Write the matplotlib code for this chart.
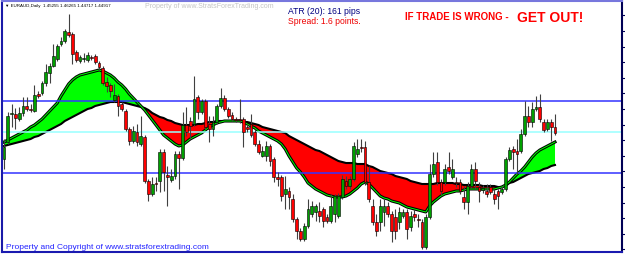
import numpy as np
import matplotlib
matplotlib.use("Agg")
import matplotlib.pyplot as plt
import matplotlib.patheffects as pe

# EURAUD daily candles, prices in pips (x 1e-4)
OPEN = [14340, 14442, 14610, 14610, 14580, 14616, 14658, 14640, 14628, 14730,
        14736, 14796, 14856, 14898, 14940, 15030, 15048, 15102, 15090, 14982,
        14928, 14940, 14934, 14952, 14958, 14916, 14886, 14802, 14784, 14694,
        14718, 14670, 14628, 14520, 14448, 14502, 14430, 14472, 14208, 14130,
        14196, 14208, 14382, 14244, 14214, 14238, 14370, 14346, 14544, 14568,
        14550, 14712, 14622, 14688, 14550, 14520, 14562, 14658, 14706, 14640,
        14604, 14580, 14580, 14580, 14532, 14550, 14502, 14430, 14358, 14358,
        14418, 14340, 14232, 14232, 14130, 14148, 14100, 13980, 13908, 13860,
        13938, 14010, 14022, 14028, 14040, 13992, 13968, 14010, 13998, 14112,
        14208, 14178, 14220, 14370, 14412, 14412, 14202, 14058, 13962, 13962,
        14022, 14058, 14010, 13992, 13962, 13998, 14022, 13932, 14010, 13980,
        13962, 13812, 13992, 14250, 14322, 14202, 14202, 14292, 14232, 14202,
        14202, 14112, 14082, 14178, 14280, 14172, 14154, 14148, 14172, 14130,
        14148, 14142, 14160, 14340, 14400, 14388, 14388, 14490, 14598, 14562,
        14640, 14652, 14562, 14520, 14562, 14532]
HIGH = [14460, 14622, 14670, 14646, 14652, 14712, 14712, 14670, 14784, 14748,
        14808, 14910, 14916, 15030, 15030, 15072, 15120, 15210, 15102, 14994,
        14964, 14976, 14982, 14964, 14970, 14928, 14898, 14832, 14796, 14790,
        14730, 14682, 14640, 14532, 14538, 14550, 14598, 14484, 14220, 14232,
        14232, 14400, 14400, 14298, 14280, 14388, 14388, 14622, 14652, 14592,
        14838, 14724, 14700, 14700, 14598, 14598, 14670, 14766, 14724, 14652,
        14622, 14592, 14700, 14592, 14550, 14610, 14520, 14454, 14418, 14448,
        14430, 14352, 14262, 14244, 14238, 14172, 14130, 13992, 13926, 13956,
        14100, 14088, 14070, 14082, 14052, 14010, 14130, 14130, 14136, 14244,
        14238, 14238, 14442, 14460, 14460, 14448, 14298, 14100, 14010, 14100,
        14100, 14082, 14028, 14040, 14052, 14040, 14040, 14028, 14040, 14010,
        13980, 14010, 14310, 14382, 14382, 14220, 14310, 14382, 14340, 14232,
        14220, 14178, 14202, 14310, 14322, 14202, 14184, 14190, 14190, 14160,
        14160, 14178, 14352, 14412, 14418, 14460, 14520, 14688, 14658, 14682,
        14718, 14730, 14580, 14580, 14580, 14610]
LOW = [14280, 14430, 14532, 14520, 14568, 14598, 14628, 14622, 14622, 14706,
       14724, 14778, 14796, 14892, 14928, 15018, 15036, 15072, 14910, 14922,
       14916, 14922, 14922, 14934, 14910, 14868, 14784, 14742, 14712, 14682,
       14598, 14628, 14508, 14424, 14436, 14418, 14418, 14196, 14088, 14118,
       14148, 14142, 14148, 14058, 14202, 14220, 14160, 14334, 14478, 14460,
       14538, 14580, 14610, 14520, 14442, 14478, 14550, 14646, 14628, 14586,
       14568, 14562, 14556, 14412, 14502, 14472, 14418, 14370, 14352, 14328,
       14298, 14202, 14178, 14088, 14040, 14040, 13962, 13860, 13848, 13848,
       13926, 13992, 13968, 13962, 13932, 13956, 13956, 13962, 13986, 14100,
       14160, 14160, 14208, 14352, 14382, 14184, 14082, 13944, 13878, 13908,
       13938, 13992, 13842, 13860, 13920, 13986, 13860, 13908, 13968, 13932,
       13800, 13800, 13980, 14232, 14184, 14124, 14184, 14250, 14220, 14172,
       14130, 14040, 14010, 14166, 14160, 14082, 14136, 14112, 14130, 14070,
       14040, 14130, 14148, 14328, 14280, 14250, 14376, 14478, 14532, 14532,
       14628, 14562, 14502, 14508, 14448, 14484]
CLOSE = [14412, 14598, 14616, 14586, 14616, 14658, 14640, 14634, 14724, 14718,
         14796, 14862, 14898, 14958, 15018, 15048, 15108, 15084, 14970, 14934,
         14952, 14946, 14964, 14946, 14922, 14892, 14796, 14778, 14748, 14724,
         14658, 14640, 14520, 14448, 14508, 14442, 14478, 14208, 14130, 14190,
         14190, 14382, 14262, 14232, 14238, 14370, 14346, 14544, 14502, 14538,
         14700, 14622, 14688, 14532, 14520, 14562, 14658, 14706, 14640, 14598,
         14580, 14574, 14574, 14502, 14520, 14484, 14430, 14382, 14388, 14418,
         14328, 14232, 14220, 14118, 14160, 14112, 13980, 13908, 13860, 13938,
         14040, 14058, 14058, 13998, 13968, 13968, 14058, 14118, 14118, 14220,
         14178, 14220, 14418, 14400, 14406, 14202, 14100, 13962, 13908, 14058,
         14058, 14010, 13908, 13908, 14022, 14022, 13920, 13998, 13992, 13974,
         13812, 13992, 14250, 14310, 14202, 14148, 14280, 14268, 14280, 14196,
         14148, 14082, 14178, 14280, 14208, 14148, 14166, 14130, 14142, 14100,
         14118, 14160, 14340, 14394, 14382, 14370, 14490, 14598, 14562, 14640,
         14652, 14580, 14514, 14562, 14532, 14496]

# ribbon: fast and slow moving averages
EMA_FAST = [14442, 14454, 14466, 14478, 14490, 14502, 14514, 14532, 14544, 14562,
            14580, 14604, 14628, 14652, 14676, 14718, 14754, 14790, 14814, 14832,
            14844, 14850, 14856, 14862, 14868, 14874, 14868, 14856, 14844, 14826,
            14802, 14784, 14760, 14730, 14706, 14682, 14658, 14634, 14604, 14574,
            14544, 14514, 14484, 14466, 14448, 14430, 14418, 14424, 14442, 14460,
            14472, 14484, 14496, 14514, 14532, 14544, 14556, 14562, 14568, 14568,
            14568, 14568, 14568, 14562, 14550, 14538, 14526, 14508, 14496, 14484,
            14472, 14460, 14448, 14430, 14400, 14358, 14322, 14286, 14262, 14232,
            14196, 14178, 14160, 14148, 14136, 14124, 14118, 14112, 14112, 14112,
            14118, 14130, 14148, 14166, 14190, 14202, 14190, 14166, 14142, 14118,
            14106, 14100, 14088, 14082, 14076, 14064, 14052, 14046, 14040, 14034,
            14028, 14022, 14058, 14082, 14100, 14118, 14130, 14136, 14142, 14148,
            14148, 14154, 14160, 14160, 14160, 14160, 14160, 14160, 14160, 14160,
            14166, 14172, 14184, 14202, 14226, 14250, 14268, 14292, 14322, 14352,
            14376, 14394, 14406, 14418, 14430, 14442]
EMA_SLOW = [14418, 14424, 14430, 14436, 14442, 14448, 14454, 14460, 14472, 14478,
            14490, 14502, 14514, 14526, 14538, 14550, 14568, 14580, 14592, 14604,
            14616, 14628, 14640, 14646, 14658, 14664, 14670, 14676, 14682, 14682,
            14682, 14682, 14676, 14670, 14664, 14658, 14652, 14646, 14634, 14616,
            14604, 14592, 14586, 14574, 14568, 14556, 14550, 14544, 14544, 14544,
            14544, 14550, 14550, 14556, 14562, 14562, 14568, 14568, 14568, 14568,
            14568, 14568, 14568, 14562, 14562, 14556, 14550, 14544, 14532, 14526,
            14520, 14514, 14508, 14502, 14496, 14478, 14466, 14454, 14442, 14430,
            14418, 14406, 14394, 14388, 14376, 14364, 14352, 14340, 14328, 14322,
            14316, 14316, 14316, 14310, 14310, 14310, 14298, 14292, 14280, 14268,
            14262, 14256, 14250, 14238, 14232, 14226, 14220, 14208, 14202, 14196,
            14190, 14190, 14190, 14190, 14196, 14196, 14196, 14196, 14196, 14190,
            14190, 14184, 14184, 14184, 14184, 14184, 14178, 14178, 14178, 14178,
            14172, 14172, 14178, 14196, 14202, 14214, 14226, 14238, 14250, 14256,
            14262, 14268, 14280, 14286, 14298, 14304]

# horizontal levels drawn on the chart
LEVELS_BLUE = [14688, 14256]
LEVELS_CYAN = [14502]

HEADER = "\u25bc EURAUD,Daily  1.45255 1.46265 1.44717 1.44917"

o = np.array(OPEN) / 1e4
hi = np.array(HIGH) / 1e4
lo = np.array(LOW) / 1e4
c = np.array(CLOSE) / 1e4
fast = np.array(EMA_FAST) / 1e4
slow = np.array(EMA_SLOW) / 1e4
x = np.arange(len(o))

W, H = 625, 255
fig = plt.figure(figsize=(W / 100, H / 100), dpi=100)
fig.patch.set_facecolor("white")
ax = fig.add_axes([2 / W, 2 / H, 620 / W, 251.5 / H])

# ribbon
ax.fill_between(x, fast, slow, where=fast >= slow, interpolate=True,
                color="#00ff00", lw=0, zorder=1)
ax.fill_between(x, fast, slow, where=fast < slow, interpolate=True,
                color="#ff0000", lw=0, zorder=1)
ax.plot(x, slow, color="black", lw=1.5, zorder=2)
ax.plot(x, fast, color="#00ff00", lw=0.7, zorder=2,
        path_effects=[pe.Stroke(linewidth=2.2, foreground="black"), pe.Normal()])

# levels
for lv in LEVELS_BLUE:
    ax.axhline(lv / 1e4, color="#3333ff", lw=1.1, zorder=2.5)
for lv in LEVELS_CYAN:
    ax.axhline(lv / 1e4, color="#99ffff", lw=1.1, zorder=2.5)

# candles
up = c >= o
cols = np.where(up, "#00a000", "#ff0000")
ax.vlines(x, lo, hi, color="#404040", lw=0.8, zorder=3)
body_lo = np.minimum(o, c)
body_h = np.maximum(np.abs(c - o), 0.00008)
ax.bar(x, body_h, bottom=body_lo, width=0.7, color=cols,
       edgecolor="black", linewidth=0.4, zorder=4)

# frame and price-scale ticks
for side, col in [("top", "#7777dd"), ("left", "#1a1aa8"),
                  ("bottom", "#1a1ab0"), ("right", "#000055")]:
    ax.spines[side].set_color(col)
    ax.spines[side].set_linewidth(1.5)
ax.set_xticks([])
ticks = 1.4640 + 0.00936 * np.arange(-9, 8)
ax.set_yticks(ticks)
ax.yaxis.tick_right()
ax.tick_params(axis="y", direction="out", length=3, width=0.8,
               color="#000055", labelright=False)
ax.set_xlim(-0.53, 162.63)
ax.set_ylim(1.3782, 1.5291)

# texts
ff = ["Liberation Sans", "DejaVu Sans"]
fig.text(5 / W, 1 - 6 / H, HEADER, fontsize=3.2, family=ff,
         color="black", va="center")
fig.text(145 / W, 1 - 7 / H, "Property of www.StratsForexTrading.com",
         fontsize=5, family=ff, color="#c4c4c4", va="center")
fig.text(288 / W, 1 - 11 / H, "ATR (20): 161 pips", fontsize=6.2,
         family=ff, color="#000080", va="center")
fig.text(288 / W, 1 - 21 / H, "Spread: 1.6 points.", fontsize=6.2,
         family=ff, color="#ee0000", va="center")
fig.text(405 / W, 1 - 17.5 / H, "IF TRADE IS WRONG - ", fontsize=7,
         family=ff, weight="bold", color="#ff0000", va="center")
fig.text(517 / W, 1 - 17.5 / H, "GET OUT!", fontsize=10,
         family=ff, weight="bold", color="#ff0000", va="center")
fig.text(6 / W, 1 - 247.5 / H,
         "Property and Copyright of www.stratsforextrading.com",
         fontsize=6, family=ff, color="#2222ff", va="center")

fig.savefig("out.png", dpi=100)
